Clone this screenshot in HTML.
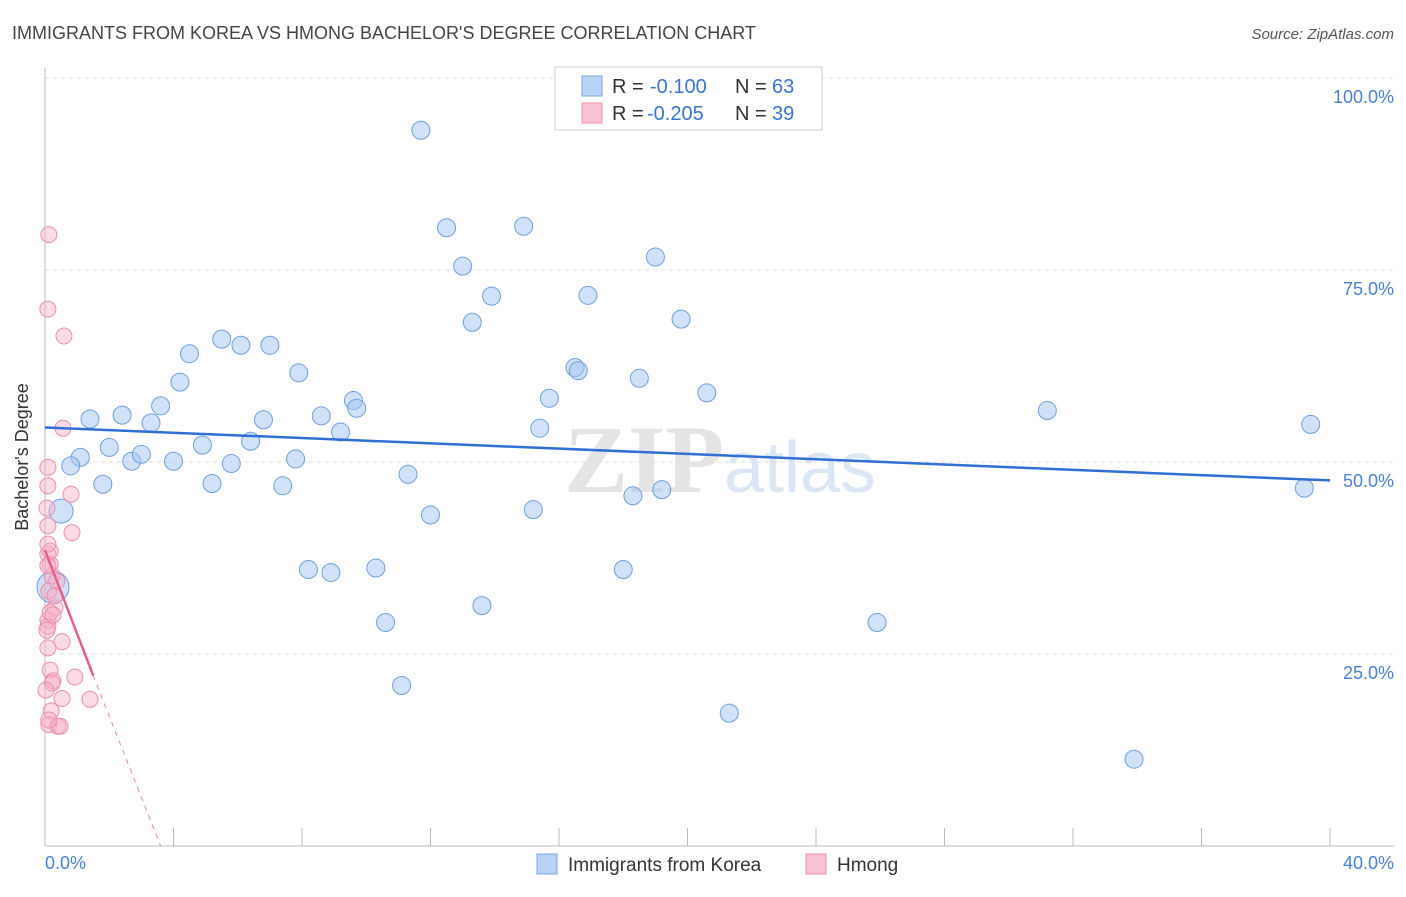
<!DOCTYPE html>
<html><head><meta charset="utf-8"><style>
body{margin:0;background:#fff;font-family:"Liberation Sans",sans-serif}
</style></head><body>
<svg width="1406" height="892" xmlns="http://www.w3.org/2000/svg" font-family="Liberation Sans, sans-serif">
<text x="12" y="39" font-size="18" fill="#444">IMMIGRANTS FROM KOREA VS HMONG BACHELOR'S DEGREE CORRELATION CHART</text>
<text x="1394" y="39" font-size="15" fill="#555" text-anchor="end" font-style="italic">Source: ZipAtlas.com</text>
<text x="720" y="492" font-size="96" fill="#e4e4e4" text-anchor="middle" font-family="Liberation Serif, serif" font-weight="bold">ZIP<tspan fill="#dbe6f5" font-family="Liberation Sans, sans-serif" font-weight="normal" font-size="72">atlas</tspan></text>
<g id="grid"></g>
<line x1="45" y1="68" x2="45" y2="846" stroke="#bbb"/>
<line x1="45" y1="846" x2="1394" y2="846" stroke="#bbb"/>
<g id="ticks"></g>
<text x="28" y="457" font-size="18" fill="#333" text-anchor="middle" transform="rotate(-90 28 457)">Bachelor's Degree</text>
<text x="45" y="869" font-size="18" fill="#4a7fd4">0.0%</text>
<text x="1394" y="869" font-size="18" fill="#4a7fd4" text-anchor="end">40.0%</text>
<g id="pts"></g>
<g id="trend"></g>
<g>
<rect x="555" y="67" width="267" height="63" fill="#fff" stroke="#ccc"/>
<rect x="582" y="76" width="20" height="20" fill="#b8d3f5" stroke="#7aa7e2"/>
<rect x="582" y="103" width="20" height="20" fill="#f9c4d4" stroke="#ea93b0"/>
<text x="612" y="93" font-size="20" fill="#333">R =</text>
<text x="650" y="93" font-size="20" fill="#3b73d1">-0.100</text>
<text x="735" y="93" font-size="20" fill="#333">N =</text>
<text x="772" y="93" font-size="20" fill="#3b73d1">63</text>
<text x="612" y="120" font-size="20" fill="#333">R =</text>
<text x="647" y="120" font-size="20" fill="#3b73d1">-0.205</text>
<text x="735" y="120" font-size="20" fill="#333">N =</text>
<text x="772" y="120" font-size="20" fill="#3b73d1">39</text>
</g>
<g>
<rect x="537" y="854" width="20" height="20" fill="#b8d3f5" stroke="#7aa7e2"/>
<text x="568" y="871" font-size="19" fill="#333">Immigrants from Korea</text>
<rect x="806" y="854" width="20" height="20" fill="#f9c4d4" stroke="#ea93b0"/>
<text x="837" y="871" font-size="19" fill="#333">Hmong</text>
</g>
</svg>
<script>
const yTicks=[25,50,75,100];
const xTickVals=[4,8,12,16,20,24,28,32,36,40];
const koreaX=[11.7,12.5,14.9,13.0,19.0,13.9,16.9,13.3,19.8,5.5,4.5,6.1,7.0,16.5,16.6,4.2,7.9,18.5,9.6,9.7,15.7,20.6,3.6,1.4,2.4,3.3,6.8,8.6,9.2,15.4,31.2,39.4,2.0,4.9,6.4,1.1,0.8,2.7,3.0,4.0,5.8,7.8,11.3,1.8,5.2,7.4,18.3,19.2,39.2,0.5,12.0,15.2,8.2,8.9,10.3,18.0,13.6,10.6,25.9,11.1,21.3,33.9,0.25];
const koreaY=[93.2,80.5,80.7,75.5,76.7,71.6,71.7,68.2,68.6,66.0,64.1,65.2,65.2,62.3,61.9,60.4,61.6,60.9,58.0,57.0,58.3,59.0,57.3,55.6,56.1,55.1,55.5,56.0,53.9,54.4,56.7,54.9,51.9,52.2,52.7,50.6,49.5,50.1,51.0,50.1,49.8,50.4,48.4,47.1,47.2,46.9,45.6,46.4,46.6,43.6,43.1,43.8,36.0,35.6,36.2,36.0,31.3,29.1,29.1,20.9,17.3,11.3,33.7];
const koreaR=[9,9,9,9,9,9,9,9,9,9,9,9,9,9,9,9,9,9,9,9,9,9,9,9,9,9,9,9,9,9,9,9,9,9,9,9,9,9,9,9,9,9,9,9,9,9,9,9,9,12,9,9,9,9,9,9,9,9,9,9,9,9,16];
const hmongX=[0.12,0.09,0.59,0.56,0.09,0.81,0.09,0.09,0.84,0.09,0.16,0.12,0.22,0.31,0.09,0.09,0.53,0.09,0.16,0.25,0.93,0.53,1.4,0.19,0.12,0.4,0.47,0.16,0.09,0.31,0.22,0.06,0.09,0.16,0.06,0.25,0.37,0.03,0.12];
const hmongY=[79.6,69.9,66.4,54.4,49.3,45.8,46.9,41.7,40.8,38.0,36.7,33.2,35.2,31.0,29.4,28.6,26.6,25.8,22.9,21.5,22.0,19.2,19.1,17.6,15.8,15.6,15.6,38.4,36.5,32.6,21.2,44.0,39.3,30.4,28.1,30.1,34.5,20.3,16.4];
const NS="http://www.w3.org/2000/svg";
const X=v=>45+v/40*1285, Y=v=>846-v*7.68;
function mk(t,a,p){const e=document.createElementNS(NS,t);for(const k in a)e.setAttribute(k,a[k]);p.appendChild(e);return e;}
const grid=document.getElementById('grid');
yTicks.forEach(t=>{
 const l=mk('line',{x1:45,x2:1394,y1:Y(t),y2:Y(t),stroke:'#ddd','stroke-dasharray':'4,4'},grid);
 
 
 const tx=mk('text',{x:1394,y:Y(t)+25,'font-size':18,fill:'#4a7fd4','text-anchor':'end'},grid);
 tx.textContent=t.toFixed(1)+'%';
 
 
});
const ticks=document.getElementById('ticks');
xTickVals.forEach(t=>{
 const l=mk('line',{x1:X(t),x2:X(t),y1:828,y2:846,stroke:'#bbb'},ticks);
 
 
});
const pts=document.getElementById('pts');
koreaX.forEach((v,i)=>{
 const c=mk('circle',{cx:X(v),cy:Y(koreaY[i]),r:koreaR[i],fill:'rgba(164,196,240,0.5)',stroke:'#6f9fe0','stroke-width':1},pts);
 
 
});
hmongX.forEach((v,i)=>{
 const c=mk('circle',{cx:X(v),cy:Y(hmongY[i]),r:8,fill:'rgba(247,176,198,0.45)',stroke:'#ea8fae','stroke-width':1},pts);
 
 
});
const tr=document.getElementById('trend');
const l1=mk('line',{x1:X(0),y1:Y(54.5),x2:X(40),y2:Y(47.6),stroke:'#2f6fd6','stroke-width':2.5},tr);


const l2=mk('line',{x1:X(0),y1:Y(38.5),x2:X(1.5),y2:Y(22.2),stroke:'#e45f8a','stroke-width':2.5},tr);


const l3=mk('line',{x1:X(1.5),y1:Y(22.2),x2:X(3.6),y2:Y(0),stroke:'#e88aa8','stroke-width':1,'stroke-dasharray':'5,5'},tr);


</script>
</body></html>
